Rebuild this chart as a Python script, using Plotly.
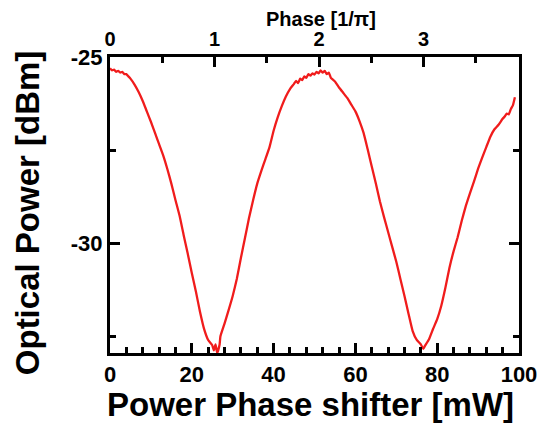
import plotly.graph_objects as go

# Data
power_mw = [0, 0.5, 1, 1.5, 2, 2.5, 3, 3.5, 4, 4.5, 5, 6, 7, 8, 9, 10, 11, 12, 13, 14, 15, 16, 17, 18, 19,
            20, 21, 22, 23, 24, 25, 25.4, 25.8, 26.2, 26.8, 27, 28, 29, 30, 31, 32,
            33, 34, 35, 36, 37, 38, 39, 40, 41, 42, 43, 44, 45, 45.5, 46, 46.5, 47, 47.5, 48, 48.5,
            49, 49.5, 50, 50.5, 51, 51.5, 52, 52.5, 53, 53.5, 54, 55, 56, 57, 58, 59, 60, 61, 62, 63,
            64, 65, 66, 67, 68, 69, 70, 71, 72, 73, 74, 75, 76, 76.6, 77, 78, 79, 80, 81, 82, 83, 84,
            85, 86, 87, 88, 89, 90, 91, 92, 93, 94, 95, 96, 96.5, 97, 97.5, 98, 98.5, 99]
optical_dbm = [-25.30, -25.36, -25.34, -25.40, -25.37, -25.42, -25.40, -25.46, -25.46, -25.52, -25.58,
               -25.74, -25.94, -26.18, -26.46, -26.74, -27.04, -27.34, -27.64, -28.00, -28.40,
               -28.84, -29.26, -29.78, -30.28, -30.80, -31.30, -31.84, -32.30, -32.60, -32.74,
               -32.88, -32.72, -32.95, -32.72, -32.50, -32.16, -31.80, -31.42, -30.96, -30.40,
               -29.86, -29.32, -28.84, -28.40, -28.06, -27.74, -27.42, -26.98, -26.62, -26.32,
               -26.06, -25.86, -25.72, -25.64, -25.70, -25.58, -25.62, -25.52, -25.56, -25.46,
               -25.50, -25.44, -25.47, -25.40, -25.44, -25.36, -25.42, -25.37, -25.46, -25.42,
               -25.56, -25.66, -25.82, -25.96, -26.10, -26.28, -26.46, -26.72, -27.04, -27.48,
               -27.94, -28.40, -28.88, -29.30, -29.70, -30.10, -30.50, -30.96, -31.42, -31.90,
               -32.36, -32.60, -32.72, -32.84, -32.76, -32.58, -32.30, -32.04, -31.68, -31.20,
               -30.66, -30.22, -29.84, -29.40, -29.00, -28.66, -28.34, -28.00, -27.70, -27.42,
               -27.14, -26.94, -26.82, -26.66, -26.60, -26.52, -26.54, -26.40, -26.30, -26.08]

x_ticks = [0, 20, 40, 60, 80, 100]
x_tick_text = ["0", "20", "40", "60", "80", "100"]
y_ticks = [-25, -30]
y_tick_text = ["-25", "-30"]
phase_ticks = [0, 1, 2, 3]
phase_tick_text = ["0", "1", "2", "3"]
mw_per_pi = 25.55
x_range = [0, 100]
y_range = [-32.95, -25]

FONT = "Liberation Sans"
BLACK = "#000000"
RED = "#f01c1c"

fig = go.Figure()
fig.add_trace(go.Scatter(x=power_mw, y=optical_dbm, mode="lines",
                         line=dict(color=RED, width=2.3, shape="spline", smoothing=0.4),
                         showlegend=False))
# invisible trace for top axis
fig.add_trace(go.Scatter(x=[0, x_range[1] / mw_per_pi], y=[y_range[0], y_range[0]],
                         xaxis="x2", mode="lines", line=dict(width=0),
                         hoverinfo="skip", showlegend=False, opacity=0))

def tf(size):
    return dict(family=FONT, size=size, color=BLACK, weight="bold")

fig.update_layout(
    width=549, height=423,
    margin=dict(l=110, r=22, t=57, b=70),
    paper_bgcolor="white", plot_bgcolor="white",
    font=dict(family=FONT, color=BLACK),
    xaxis=dict(range=x_range, tickvals=x_ticks, ticktext=x_tick_text, ticks="inside",
               ticklen=10, tickwidth=2.5,
               tickcolor=BLACK, showline=True, linewidth=3, linecolor=BLACK, mirror=False,
               showgrid=False, zeroline=False, tickfont=tf(22),
               minor=dict(dtick=4, tick0=0, ticks="inside", ticklen=6, tickwidth=2.5,
                          tickcolor=BLACK, showgrid=False)),
    xaxis2=dict(overlaying="x", side="top", range=[0, x_range[1] / mw_per_pi],
                tickvals=phase_ticks, ticktext=phase_tick_text, ticks="inside", ticklen=10,
                tickwidth=2.5, tickcolor=BLACK, showline=True, linewidth=3, linecolor=BLACK,
                showgrid=False, zeroline=False, tickfont=tf(20),
                minor=dict(dtick=0.5, tick0=0, ticks="inside", ticklen=6, tickwidth=2.5,
                           tickcolor=BLACK, showgrid=False)),
    yaxis=dict(range=y_range, tickvals=y_ticks, ticktext=y_tick_text, ticks="inside",
               ticklen=10, tickwidth=2.5,
               tickcolor=BLACK, showline=True, linewidth=3, linecolor=BLACK, mirror="ticks",
               showgrid=False, zeroline=False, tickfont=tf(22),
               minor=dict(tickvals=[-27.5, -32.5], ticks="inside", ticklen=6, tickwidth=2.5,
                          tickcolor=BLACK, showgrid=False)),
    annotations=[
        dict(text="Power Phase shifter [mW]", xref="paper", yref="paper",
             x=0.49, y=-0.175, xanchor="center", yanchor="middle", showarrow=False,
             font=tf(33)),
        dict(text="Optical Power [dBm]", xref="paper", yref="paper",
             x=-0.2, y=0.473, xanchor="center", yanchor="middle", showarrow=False,
             textangle=-90, font=tf(33)),
        dict(text="Phase [1/π]", xref="paper", yref="paper",
             x=0.515, y=1.13, xanchor="center", yanchor="middle", showarrow=False,
             font=tf(20)),
    ],
)

fig.write_html("out.html")
